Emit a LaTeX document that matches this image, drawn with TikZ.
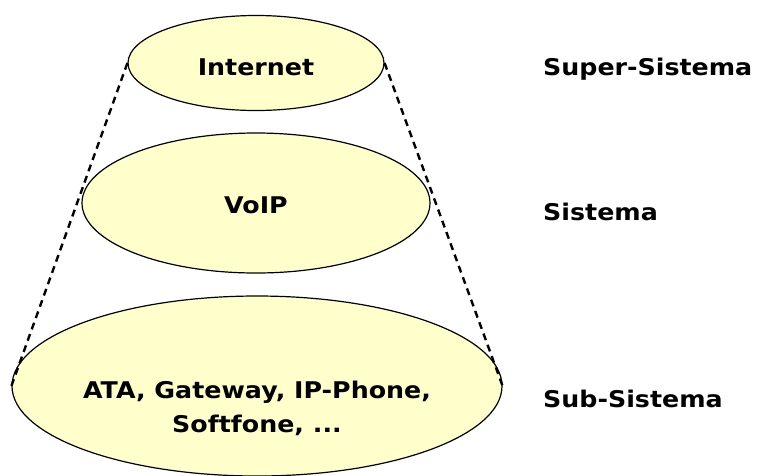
\documentclass[tikz,border=0pt]{standalone}
\usepackage{fontspec}
\setmainfont{DejaVu Sans}[FakeStretch=1.10]
\usetikzlibrary{shapes.geometric}
\definecolor{levelfill}{HTML}{FFFFCC}
\tikzset{
  level/.style={ellipse, draw=black, line width=1.2pt, fill=levelfill, inner sep=0pt},
  txt/.style={font=\fontsize{23}{33}\selectfont\bfseries, inner sep=0pt, anchor=base},
  tag/.style={font=\fontsize{23}{33}\selectfont\bfseries, inner sep=0pt, anchor=base west},
  hull/.style={draw=black, line width=2.4pt, dash pattern=on 7pt off 5pt}
}
\begin{document}
\begin{tikzpicture}[x=1pt, y=-1pt]
  \useasboundingbox (0,0) rectangle (759,475);
  \clip (0,0) rectangle (759,475);
  \fill[white] (0,0) rectangle (759,475);

  % three nested levels
  \node[level, minimum width=256pt, minimum height=95pt] (e1) at (256,63) {};
  \node[level, minimum width=348pt, minimum height=140pt] (e2) at (256,203) {};
  \node[level, minimum width=490pt, minimum height=180pt] (e3) at (257,386) {};

  % cone joining top and bottom levels
  \draw[hull] (e1.west) -- (e3.west);
  \draw[hull] (e1.east) -- (e3.east);

  % level contents
  \node[txt] (t1) at (256,75) {Internet};
  \node[txt] (t2) at (256,213) {VoIP};
  \node[txt] (t3a) at (257,398) {ATA, Gateway, IP-Phone,};
  \node[txt] (t3b) at (257,432) {Softfone, ...};

  % level names
  \node[tag] (s1) at (543,75) {Super-Sistema};
  \node[tag] (s2) at (543,220) {Sistema};
  \node[tag] (s3) at (543,407) {Sub-Sistema};
\end{tikzpicture}
\end{document}
